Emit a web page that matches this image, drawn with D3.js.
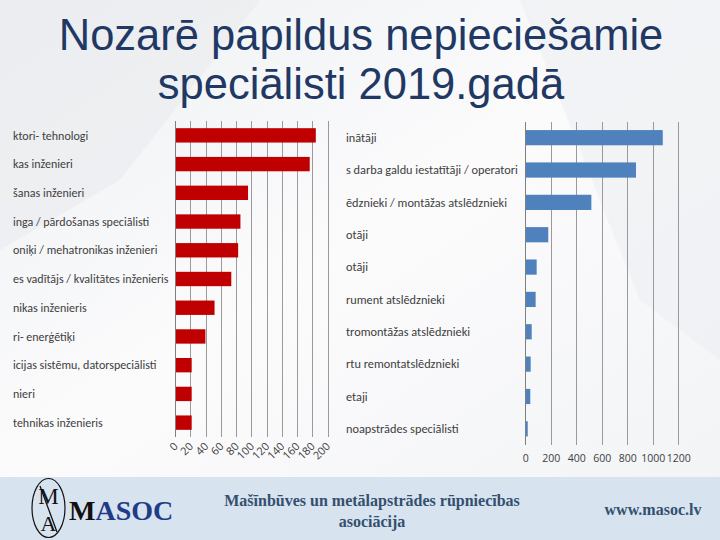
<!DOCTYPE html>
<html><head><meta charset="utf-8">
<script src="https://cdn.jsdelivr.net/npm/d3@7"></script>
<style>html,body{margin:0;padding:0;background:#fff;}svg{display:block;}</style>
</head><body>
<svg id="c" width="720" height="540"></svg>
<script>
const titleLines = ["Nozarē papildus nepieciešamie", "speciālisti 2019.gadā"];
const leftCategories = [
  "ktori- tehnologi", "kas inženieri", "šanas inženieri",
  "inga / pārdošanas speciālisti", "oniķi / mehatronikas inženieri",
  "es vadītājs / kvalitātes inženieris", "nikas inženieris", "ri- enerģētiķi",
  "icijas sistēmu, datorspeciālisti", "nieri", "tehnikas inženieris"
];
const leftValues = [184, 176, 95, 85, 82, 73, 51, 39, 21, 21, 21];
const leftTicks = [0, 20, 40, 60, 80, 100, 120, 140, 160, 180, 200];
const rightCategories = [
  "inātāji", "s darba galdu iestatītāji / operatori",
  "ēdznieki / montāžas atslēdznieki", "otāji", "otāji",
  "rument atslēdznieki", "tromontāžas atslēdznieki", "rtu remontatslēdznieki",
  "etaji", "noapstrādes speciālisti"
];
const rightValues = [1075, 865, 515, 177, 86, 78, 47, 39, 36, 16];
const rightTicks = [0, 200, 400, 600, 800, 1000, 1200];
const footerMiddle = ["Mašīnbūves un metālapstrādes rūpniecības", "asociācija"];
const footerUrl = "www.masoc.lv";

const svg = d3.select("#c");

// background subtle shapes
const defs = svg.append("defs");
const g1 = defs.append("linearGradient").attr("id","bg").attr("x1","0").attr("y1","0").attr("x2","1").attr("y2","1");
g1.append("stop").attr("offset","0").attr("stop-color","#eef0f2");
g1.append("stop").attr("offset","0.5").attr("stop-color","#fbfbfc");
g1.append("stop").attr("offset","1").attr("stop-color","#f3f4f6");
svg.append("rect").attr("width",720).attr("height",478).attr("fill","url(#bg)");
svg.append("path").attr("d","M0,0 L260,0 L120,180 L0,250 Z").attr("fill","#e9ebee").attr("opacity",0.6);
svg.append("path").attr("d","M720,0 L520,0 L640,300 L720,360 Z").attr("fill","#eceef1").attr("opacity",0.6);

// title
svg.append("g").selectAll("text").data(titleLines).join("text")
  .attr("x", 361).attr("y", (d,i)=> 50 + i*49)
  .attr("text-anchor","middle")
  .attr("font-family","'Liberation Sans', Arial, sans-serif")
  .attr("font-size", 43.5)
  .attr("fill","#1f3864")
  .text(d=>d);

function drawChart(opts){
  const g = svg.append("g");
  const idx = d3.range(opts.cats.length);
  const x = d3.scaleLinear().domain(opts.domain).range(opts.xRange);
  const y = d3.scaleBand().domain(idx).range(opts.yRange).paddingInner(opts.pad).paddingOuter(opts.pad/2);
  // gridlines
  g.selectAll("line.grid").data(opts.ticks.slice(1)).join("line")
    .attr("x1", d=>x(d)).attr("x2", d=>x(d))
    .attr("y1", opts.yRange[0]).attr("y2", opts.yRange[1])
    .attr("stroke","#9a9a9a").attr("stroke-width",1).attr("shape-rendering","crispEdges");
  // bars
  g.selectAll("rect.bar").data(opts.vals).join("rect")
    .attr("x", x(0)).attr("y", (d,i)=>y(i))
    .attr("width", d=>x(d)-x(0)).attr("height", y.bandwidth())
    .attr("fill", opts.color);
  // axis line
  g.append("line").attr("x1",x(0)).attr("x2",x(0)).attr("y1",opts.yRange[0]).attr("y2",opts.yRange[1])
    .attr("stroke","#7f7f7f").attr("stroke-width",1.2).attr("shape-rendering","crispEdges");
  // labels
  g.selectAll("text.lab").data(opts.cats).join("text")
    .attr("x", opts.labelX).attr("y", (d,i)=>y(i)+y.bandwidth()/2).attr("dy","0.35em")
    .attr("font-family","Carlito, Calibri, 'Open Sans', sans-serif")
    .attr("font-size", opts.labelSize).attr("fill","#404040")
    .text(d=>d);
  return {g,x,y};
}

const L = drawChart({domain:[0,200], xRange:[175.7,328], cats:leftCategories, vals:leftValues,
  ticks:leftTicks, yRange:[121,437], pad:0.5, color:"#c00000", labelX:13, labelSize:12});
L.g.selectAll("text.tick").data(leftTicks).join("text")
  .attr("transform", d=>`translate(${L.x(d)+3},447) rotate(-45)`)
  .attr("text-anchor","end")
  .attr("font-family","'Open Sans', sans-serif").attr("font-size",11).attr("fill","#404040")
  .text(d=>d);

const R = drawChart({domain:[0,1200], xRange:[525.7,678.7], cats:rightCategories, vals:rightValues,
  ticks:rightTicks, yRange:[121.5,445], pad:0.53, color:"#4f81bd", labelX:346, labelSize:12.3});
R.g.selectAll("text.tick").data(rightTicks).join("text")
  .attr("x", d=>R.x(d)).attr("y",458).attr("dy","0.35em")
  .attr("text-anchor","middle")
  .attr("font-family","'Open Sans', sans-serif").attr("font-size",10.5).attr("fill","#404040")
  .text(d=>d);

// footer
svg.append("rect").attr("x",0).attr("y",477).attr("width",720).attr("height",63).attr("fill","#d8e3f0");
const lg = svg.append("g");
lg.append("ellipse").attr("cx",48.5).attr("cy",508).attr("rx",16.5).attr("ry",29.5)
  .attr("fill","none").attr("stroke","#111").attr("stroke-width",1.2);
lg.append("text").attr("x",48.5).attr("y",504).attr("text-anchor","middle")
  .attr("font-family","'Liberation Serif', serif").attr("font-size",23).attr("fill","#111").text("M");
lg.append("text").attr("x",48.5).attr("y",531).attr("text-anchor","middle")
  .attr("font-family","'Liberation Serif', serif").attr("font-size",22).attr("fill","#111").text("A");
lg.append("line").attr("x1",40).attr("y1",486).attr("x2",57).attr("y2",532).attr("stroke","#111").attr("stroke-width",1.3);
const ms = lg.append("text").attr("x",69).attr("y",520)
  .attr("font-family","'Liberation Serif', serif").attr("font-size",28).attr("font-weight","bold");
ms.append("tspan").attr("fill","#111").text("M");
ms.append("tspan").attr("fill","#1f3c88").text("ASOC");

svg.append("g").selectAll("text").data(footerMiddle).join("text")
  .attr("x",372).attr("y",(d,i)=>506+i*21).attr("text-anchor","middle")
  .attr("font-family","'Liberation Serif', serif").attr("font-size",16).attr("font-weight","bold")
  .attr("fill","#33506e").text(d=>d);
svg.append("text").attr("x",653).attr("y",515).attr("text-anchor","middle")
  .attr("font-family","'Liberation Serif', serif").attr("font-size",16).attr("font-weight","bold")
  .attr("fill","#33506e").text(footerUrl);
</script>
</body></html>
